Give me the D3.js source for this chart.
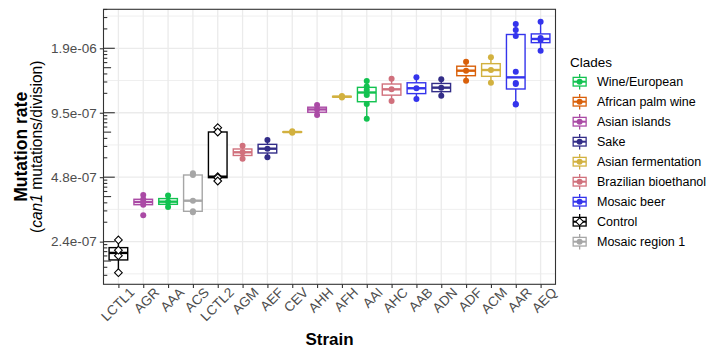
<!DOCTYPE html>
<html>
<head>
<meta charset="utf-8">
<script src="https://cdn.jsdelivr.net/npm/d3@7"></script>
<style>
  body { margin: 0; background: #fff; }
  svg { display: block; font-family: "Liberation Sans", Arial, sans-serif; }
</style>
</head>
<body>
<div id="chart"></div>
<script>
// strains in plotting order and the clade each belongs to
const strains = ['LCTL1', 'AGR', 'AAA', 'ACS', 'LCTL2', 'AGM', 'AEF', 'CEV', 'AHH',
  'AFH', 'AAI', 'AHC', 'AAB', 'ADN', 'ADF', 'ACM', 'AAR', 'AEQ'];
const strainClades = ['Control', 'Asian islands', 'Wine/European', 'Mosaic region 1',
  'Control', 'Brazilian bioethanol', 'Sake', 'Asian fermentation', 'Asian islands',
  'Asian fermentation', 'Wine/European', 'Brazilian bioethanol', 'Mosaic beer', 'Sake',
  'African palm wine', 'Asian fermentation', 'Mosaic beer', 'Mosaic beer'];

// legend order + colours
const clades = ['Wine/European', 'African palm wine', 'Asian islands', 'Sake',
  'Asian fermentation', 'Brazilian bioethanol', 'Mosaic beer', 'Control', 'Mosaic region 1'];
const cladeColors = ['#12C250', '#D9600A', '#AA4AA5', '#332D88', '#D2B13F', '#D0707C',
  '#3434EC', '#000000', '#A6A6A6'];

// mutation rates per replicate, in units of 1e-7
const rates = [
  [2.427, 2.050, 2.175, 1.707],                 // LCTL1
  [3.938, 3.760, 3.652, 3.547, 3.165],          // AGR
  [3.917, 3.664, 3.461],                        // AAA
  [4.972, 4.882, 3.703, 3.304, 3.269],          // ACS
  [8.120, 7.753, 4.794, 4.743, 4.577],          // LCTL2
  [6.691, 6.233, 5.818],                        // AGM
  [7.114, 6.478, 5.906],                        // AEF
  [7.81, 7.75, 7.70],                           // CEV
  [10.37, 9.880, 9.308],                        // AHH
  [11.42, 11.33, 11.25],                        // AFH
  [13.42, 12.65, 12.18, 11.54, 10.48, 8.945],   // AAI
  [13.75, 12.27, 10.82],                        // AHC
  [13.96, 12.41, 11.06],                        // AAB
  [13.67, 12.49, 11.46],                        // ADN
  [16.51, 14.99, 13.46],                        // ADF
  [17.31, 15.10, 13.18],                        // ACM
  [24.77, 23.22, 21.77, 14.83, 13.13, 12.99, 10.48, 10.42], // AAR
  [25.39, 21.31, 20.86, 18.59]                  // AEQ
];

// y axis: log2 scale, breaks at powers of two
const yBreakPowers = [-22, -21, -20, -19];
const yTickLabels = ['2.4e-07', '4.8e-07', '9.5e-07', '1.9e-06'];
const yDomainPowers = [-22.662, -18.395];

const W = 709, H = 348;
const panel = { left: 103.5, right: 555.5, top: 9.3, bottom: 284.3 };
const gridCol = '#EBEBEB', axisCol = '#333333', tickTextCol = '#4D4D4D';

const svg = d3.select('#chart').append('svg')
  .attr('width', W).attr('height', H);

const x = d3.scalePoint().domain(strains)
  .range([panel.left, panel.right]).padding(0.6);
const y = d3.scaleLog().base(2)
  .domain(yDomainPowers.map(p => Math.pow(2, p)))
  .range([panel.bottom, panel.top]);
const color = d3.scaleOrdinal().domain(clades).range(cladeColors);
const step = x.step();
const boxW = step * 0.75;

// grid
const grid = svg.append('g');
const minorPows = d3.range(Math.ceil(yDomainPowers[0] - 0.5) + 0.5, yDomainPowers[1], 1);
grid.selectAll('.minor').data(minorPows).join('line')
  .attr('x1', panel.left).attr('x2', panel.right)
  .attr('y1', d => y(Math.pow(2, d))).attr('y2', d => y(Math.pow(2, d)))
  .attr('stroke', gridCol).attr('stroke-width', 0.8);
grid.selectAll('.major').data(yBreakPowers).join('line')
  .attr('x1', panel.left).attr('x2', panel.right)
  .attr('y1', d => y(Math.pow(2, d))).attr('y2', d => y(Math.pow(2, d)))
  .attr('stroke', gridCol).attr('stroke-width', 1.3);
grid.selectAll('.vmajor').data(strains).join('line')
  .attr('x1', d => x(d)).attr('x2', d => x(d))
  .attr('y1', panel.top).attr('y2', panel.bottom)
  .attr('stroke', gridCol).attr('stroke-width', 1.3);

// box stats computed in log space, like ggplot on a transformed scale
function boxStats(vals) {
  const l = vals.map(v => Math.log2(v * 1e-7)).sort(d3.ascending);
  const q1 = d3.quantile(l, 0.25), med = d3.quantile(l, 0.5), q3 = d3.quantile(l, 0.75);
  const iqr = q3 - q1;
  const lo = d3.min(l.filter(v => v >= q1 - 1.5 * iqr));
  const hi = d3.max(l.filter(v => v <= q3 + 1.5 * iqr));
  const p = v => Math.pow(2, v);
  return { q1: p(q1), med: p(med), q3: p(q3), lo: p(lo), hi: p(hi) };
}

const boxes = strains.map((s, i) => ({
  strain: s, clade: strainClades[i], stats: boxStats(rates[i]),
  points: rates[i].map(v => v * 1e-7)
}));

const boxG = svg.append('g').selectAll('g').data(boxes).join('g')
  .attr('stroke', d => color(d.clade));
boxG.append('line')
  .attr('x1', d => x(d.strain)).attr('x2', d => x(d.strain))
  .attr('y1', d => y(d.stats.q3)).attr('y2', d => y(d.stats.hi))
  .attr('stroke-width', 1.4);
boxG.append('line')
  .attr('x1', d => x(d.strain)).attr('x2', d => x(d.strain))
  .attr('y1', d => y(d.stats.q1)).attr('y2', d => y(d.stats.lo))
  .attr('stroke-width', 1.4);
boxG.append('rect')
  .attr('x', d => x(d.strain) - boxW / 2).attr('width', boxW)
  .attr('y', d => y(d.stats.q3))
  .attr('height', d => y(d.stats.q1) - y(d.stats.q3))
  .attr('fill', '#fff').attr('stroke-width', 1.4);
boxG.append('line')
  .attr('x1', d => x(d.strain) - boxW / 2).attr('x2', d => x(d.strain) + boxW / 2)
  .attr('y1', d => y(d.stats.med)).attr('y2', d => y(d.stats.med))
  .attr('stroke-width', 2.4);

// replicate points: filled circles, open diamonds for the controls
const diamond = d3.symbol().type(d3.symbolDiamond2).size(38);
boxG.each(function (d) {
  const g = d3.select(this);
  if (d.clade === 'Control') {
    g.selectAll('path.pt').data(d.points).join('path')
      .attr('d', diamond)
      .attr('transform', v => `translate(${x(d.strain)},${y(v)})`)
      .attr('fill', '#fff').attr('stroke', '#000').attr('stroke-width', 1.1);
  } else {
    g.selectAll('circle.pt').data(d.points).join('circle')
      .attr('cx', x(d.strain)).attr('cy', v => y(v)).attr('r', 3)
      .attr('fill', color(d.clade)).attr('stroke', 'none');
  }
});

// panel border
svg.append('rect')
  .attr('x', panel.left).attr('y', panel.top)
  .attr('width', panel.right - panel.left).attr('height', panel.bottom - panel.top)
  .attr('fill', 'none').attr('stroke', axisCol).attr('stroke-width', 1.1);

// log ticks (base 10 marks on the log2 coordinate), left side inside panel
const logTicks = [];
for (let n = Math.floor(yDomainPowers[0]); n <= Math.ceil(yDomainPowers[1]); n++) {
  for (let k = 1; k <= 9; k++) {
    const c = n + Math.log10(k);
    if (c >= yDomainPowers[0] && c <= yDomainPowers[1]) logTicks.push({ c, k });
  }
}
svg.append('g').selectAll('line').data(logTicks).join('line')
  .attr('x1', panel.left)
  .attr('x2', d => panel.left + (d.k === 1 ? 11.3 : d.k === 5 ? 7.6 : 3.8))
  .attr('y1', d => y(Math.pow(2, d.c))).attr('y2', d => y(Math.pow(2, d.c)))
  .attr('stroke', axisCol).attr('stroke-width', 1.1);

// y axis
const yAxis = svg.append('g')
  .attr('transform', `translate(${panel.left},0)`)
  .call(d3.axisLeft(y)
    .tickValues(yBreakPowers.map(p => Math.pow(2, p)))
    .tickFormat((d, i) => yTickLabels[i])
    .tickSize(3.7).tickPadding(3));
yAxis.select('.domain').remove();
yAxis.selectAll('line').attr('stroke', axisCol).attr('stroke-width', 1.1);
yAxis.selectAll('text').attr('fill', tickTextCol)
  .style('font-size', '13.5px').style('font-family', '"Liberation Sans", Arial, sans-serif');

// x axis
const xAxis = svg.append('g')
  .attr('transform', `translate(0,${panel.bottom})`)
  .call(d3.axisBottom(x).tickSize(3.7).tickFormat(''));
xAxis.select('.domain').remove();
xAxis.selectAll('line').attr('stroke', axisCol).attr('stroke-width', 1.1);
svg.append('g').selectAll('text').data(strains).join('text')
  .attr('transform', d => `translate(${x(d) + 17},${panel.bottom + 9}) rotate(-45)`)
  .attr('text-anchor', 'end')
  .attr('fill', tickTextCol).style('font-size', '13.5px')
  .text(d => d);

// axis titles
svg.append('text')
  .attr('transform', `translate(${(panel.left + panel.right) / 2},345)`)
  .attr('text-anchor', 'middle').style('font-size', '17px').style('font-weight', 'bold')
  .text('Strain');
svg.append('text')
  .attr('transform', `translate(27,${(panel.top + panel.bottom) / 2}) rotate(-90)`)
  .attr('text-anchor', 'middle').style('font-size', '17.5px').style('font-weight', 'bold')
  .text('Mutation rate');
const yt2 = svg.append('text')
  .attr('transform', `translate(42,${(panel.top + panel.bottom) / 2}) rotate(-90)`)
  .attr('text-anchor', 'middle').style('font-size', '15.6px');
yt2.append('tspan').text('(');
yt2.append('tspan').style('font-style', 'italic').text('can1');
yt2.append('tspan').text(' mutations/division)');

// legend
const legend = svg.append('g').attr('transform', 'translate(571,0)');
legend.append('text').attr('x', -1).attr('y', 67)
  .style('font-size', '13.5px').text('Clades');
const keySize = 17.3;
const item = legend.selectAll('g.item').data(clades).join('g')
  .attr('transform', (d, i) => `translate(0,${81.7 + i * 20 - keySize / 2})`);
item.append('line')
  .attr('x1', keySize / 2).attr('x2', keySize / 2)
  .attr('y1', keySize * 0.05).attr('y2', keySize * 0.95)
  .attr('stroke', d => color(d)).attr('stroke-width', 1.3);
item.append('rect')
  .attr('x', keySize * 0.125).attr('width', keySize * 0.75)
  .attr('y', keySize * 0.25).attr('height', keySize * 0.5)
  .attr('fill', '#fff').attr('stroke', d => color(d)).attr('stroke-width', 1.3);
item.append('line')
  .attr('x1', keySize * 0.125).attr('x2', keySize * 0.875)
  .attr('y1', keySize / 2).attr('y2', keySize / 2)
  .attr('stroke', d => color(d)).attr('stroke-width', 2);
item.each(function (d) {
  const g = d3.select(this);
  if (d === 'Control') {
    g.append('path').attr('d', diamond)
      .attr('transform', `translate(${keySize / 2},${keySize / 2})`)
      .attr('fill', '#fff').attr('stroke', '#000').attr('stroke-width', 1.1);
  } else {
    g.append('circle').attr('cx', keySize / 2).attr('cy', keySize / 2).attr('r', 3)
      .attr('fill', color(d));
  }
});
item.append('text')
  .attr('x', 26).attr('y', keySize / 2).attr('dy', '0.35em')
  .style('font-size', '12.5px').text(d => d);
</script>
</body>
</html>
